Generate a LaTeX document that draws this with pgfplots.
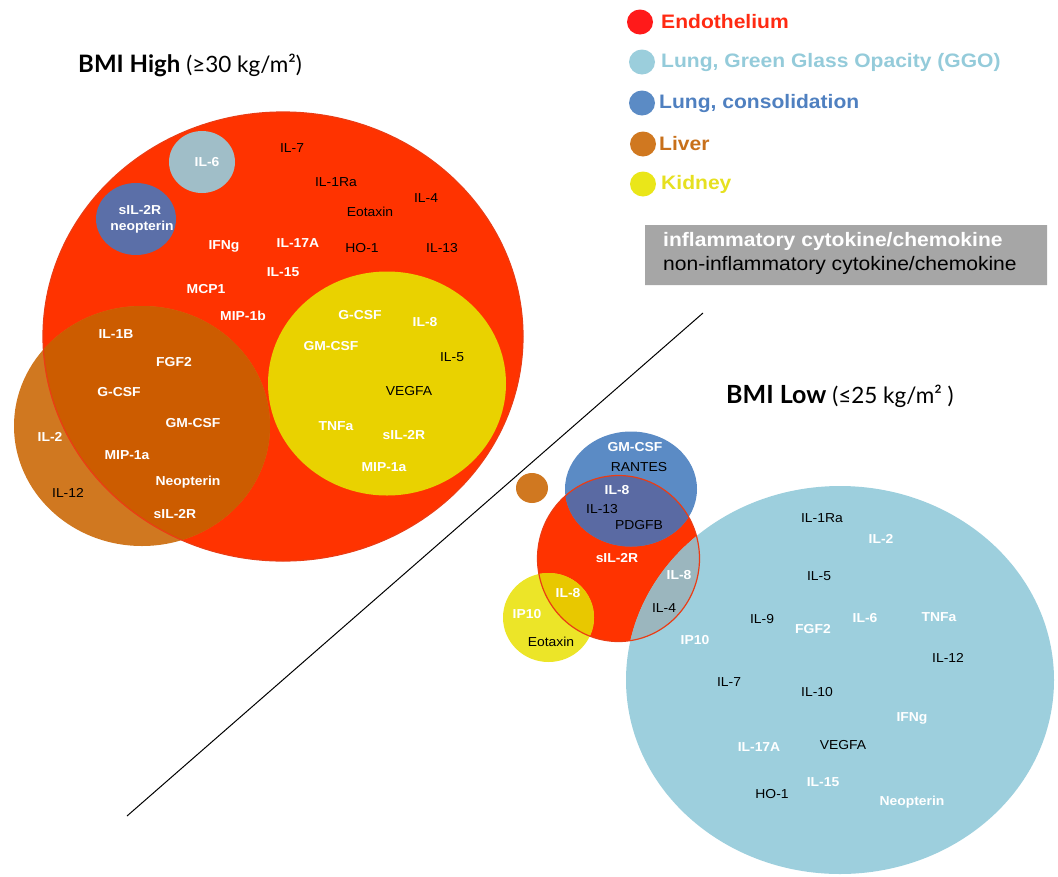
\documentclass[border=0pt]{standalone}
\usepackage{fontspec}
\setmainfont{Liberation Sans}
\newfontfamily\lato{Lato}
\usepackage{pgfplots}
\pgfplotsset{compat=1.18}

\definecolor{cRed}{RGB}{255,51,0}
\definecolor{cLiver}{RGB}{208,120,32}
\definecolor{cLiverRed}{RGB}{204,92,0}
\definecolor{cYelH}{RGB}{233,210,0}
\definecolor{cIL6}{RGB}{160,190,200}
\definecolor{cSlate}{RGB}{91,111,168}
\definecolor{cBlue}{RGB}{91,139,197}
\definecolor{cBlueRed}{RGB}{90,106,163}
\definecolor{cLBlue}{RGB}{157,207,221}
\definecolor{cLBlueRed}{RGB}{155,182,190}
\definecolor{cYelL}{RGB}{236,229,40}
\definecolor{cYelRed}{RGB}{232,200,0}
\definecolor{cRim}{RGB}{235,60,20}
\definecolor{cGray}{RGB}{166,166,166}
\definecolor{lgRed}{RGB}{255,26,26}
\definecolor{lgRedT}{RGB}{255,42,18}
\definecolor{lgLBlue}{RGB}{155,206,220}
\definecolor{lgLBlueT}{RGB}{148,203,218}
\definecolor{lgBlueT}{RGB}{79,128,192}
\definecolor{lgLiverT}{RGB}{200,112,26}
\definecolor{lgYel}{RGB}{234,230,25}
\definecolor{lgYelT}{RGB}{230,224,32}

% ellipse marks, radii in pt taken from the table
\pgfdeclareplotmark{ellF}{%
  \pgfpathellipse{\pgfpointorigin}{\pgfpoint{\rx pt}{0pt}}{\pgfpoint{0pt}{\ry pt}}%
  \pgfusepathqfill}
\pgfdeclareplotmark{ellD}{%
  \pgfpathellipse{\pgfpointorigin}{\pgfpoint{\rx pt}{0pt}}{\pgfpoint{0pt}{\ry pt}}%
  \pgfusepathqstroke}
% overlap: ellipse clipped by a second one at offset (dx,dy)
\pgfdeclareplotmark{lens}{%
  \pgfscope
  \pgfpathellipse{\pgfpoint{\dx pt}{\dy pt}}{\pgfpoint{\crx pt}{0pt}}{\pgfpoint{0pt}{\cry pt}}%
  \pgfusepathqclip
  \pgfpathellipse{\pgfpointorigin}{\pgfpoint{\rx pt}{0pt}}{\pgfpoint{0pt}{\ry pt}}%
  \pgfusepathqfill
  \endpgfscope}

\pgfplotsset{
  bub/.style={scatter, only marks, mark=ellF,
    scatter/use mapped color={draw=#1, fill=#1},
    visualization depends on=value \thisrow{rx}\as\rx,
    visualization depends on=value \thisrow{ry}\as\ry},
  rim/.style={scatter, only marks, mark=ellD,
    scatter/use mapped color={draw=#1, fill=none},
    mark options={line width=1.2pt},
    visualization depends on=value \thisrow{rx}\as\rx,
    visualization depends on=value \thisrow{ry}\as\ry},
  over/.style={scatter, only marks, mark=lens,
    scatter/use mapped color={draw=#1, fill=#1},
    visualization depends on=value \thisrow{rx}\as\rx,
    visualization depends on=value \thisrow{ry}\as\ry,
    visualization depends on=value \thisrow{dx}\as\dx,
    visualization depends on=value \thisrow{dy}\as\dy,
    visualization depends on=value \thisrow{crx}\as\crx,
    visualization depends on=value \thisrow{cry}\as\cry},
  lab/.style={draw=none, mark=none, nodes near coords,
    point meta=explicit symbolic, nodes near coords align={center},
    every node near coord/.append style={inner sep=0pt, xscale=1.07, transform shape, #1}},
  wlab/.style={lab={text=white, font=\bfseries\fontsize{13}{13}\selectfont}},
  blab/.style={lab={text=black, font=\fontsize{13}{13}\selectfont}},
}

\begin{document}
\begin{tikzpicture}
\begin{axis}[
  x=1pt, y=1pt, y dir=reverse,
  xmin=0, xmax=1058, ymin=0, ymax=876,
  hide axis, clip=false, scale only axis]
\addplot[draw=none, mark=none] coordinates {(0,0) (1058,876)};

% BMI high
\addplot[bub=cRed] table {
x y rx ry
283 336.5 240 224.5
};
\addplot[bub=cLiver] table {
x y rx ry
142 426 128 120
};
\addplot[over=cLiverRed] table {
x y rx ry dx dy crx cry
142 426 128 120 141 89.5 240 224.5
};
\addplot[rim=cRim] table {
x y rx ry
283 336.5 240 224.5
};
\addplot[bub=cYelH] table {
x y rx ry
387 383.5 119 112
};
\addplot[bub=cIL6] table {
x y rx ry
202 162 33 31
};
\addplot[bub=cSlate] table {
x y rx ry
136 219 40 36
};

% BMI low
\addplot[bub=cRed] table {
x y rx ry
618.5 558.5 81 83
};
\addplot[bub=cBlue] table {
x y rx ry
631 489 66 57.5
};
\addplot[bub=cLBlue] table {
x y rx ry
840 680 214 194
};
\addplot[bub=cYelL] table {
x y rx ry
548.5 617.5 45.5 44.5
};
\addplot[bub=cLiver] table {
x y rx ry
532 488 16 15
};
\addplot[over=cBlueRed] table {
x y rx ry dx dy crx cry
631 489 66 57.5 -12.5 -69.5 81 83
};
\addplot[over=cLBlueRed] table {
x y rx ry dx dy crx cry
840 680 214 194 -221.5 121.5 81 83
};
\addplot[over=cYelRed] table {
x y rx ry dx dy crx cry
548.5 617.5 45.5 44.5 70 59 81 83
};
\addplot[rim=cRim] table {
x y rx ry
618.5 558.5 81 83
};

% divider
\addplot[black, line width=1pt, mark=none] coordinates {(127,816) (703,313)};

% legend dots
\addplot[bub=lgRed] table {
x y rx ry
640 22 13 12.5
};
\addplot[bub=lgLBlue] table {
x y rx ry
642 62 13 12.5
};
\addplot[bub=cBlue] table {
x y rx ry
642 103 13 12.5
};
\addplot[bub=cLiver] table {
x y rx ry
643 144 13 12.5
};
\addplot[bub=lgYel] table {
x y rx ry
643 184 13 12.5
};

% key box
\addplot[fill=cGray, draw=none, mark=none] coordinates {(645,225) (1047,225) (1047,285) (645,285) (645,225)};

% labels
\addplot[wlab] table[meta=lab] {
x y lab
207 162 IL-6
140 210 sIL-2R
142 227 neopterin
224 246 IFNg
298 243 IL-17A
283 272 IL-15
206 289 MCP1
243 316 MIP-1b
116 334 IL-1B
174 362 FGF2
119 392 G-CSF
193 423 GM-CSF
50 437 IL-2
127 455 MIP-1a
188 482 Neopterin
175 514 sIL-2R
360 315 G-CSF
425 322 IL-8
331 346 GM-CSF
336 426 TNFa
404 435 sIL-2R
384 467 MIP-1a
635 447 GM-CSF
617 490 IL-8
617 558 sIL-2R
679 575 IL-8
568 593 IL-8
527 614 IP10
695 640 IP10
881 539 IL-2
813 629 FGF2
865 618 IL-6
939 617 TNFa
912 718 IFNg
759 747 IL-17A
823 782 IL-15
912 802 Neopterin
};
\addplot[blab] table[meta=lab] {
x y lab
292 148 IL-7
336 182 IL-1Ra
426 198 IL-4
370 212 Eotaxin
362 248 HO-1
442 248 IL-13
68 493 IL-12
452 357 IL-5
409 391 VEGFA
639 467 RANTES
602 509 IL-13
639 525 PDGFB
664 608 IL-4
551 642 Eotaxin
822 518 IL-1Ra
819 576 IL-5
762 619 IL-9
948 658 IL-12
729 682 IL-7
817 692 IL-10
843 745 VEGFA
772 794 HO-1
};

% titles, legend and key text
\node[anchor=base west, inner sep=0pt] at (axis cs:78,72)
  {{\lato\bfseries\fontsize{24}{24}\selectfont BMI High}\hspace{6pt}{\lato\fontsize{22.5}{22.5}\selectfont(≥30 kg/m²)}};
\node[anchor=base west, inner sep=0pt] at (axis cs:726,403)
  {{\lato\bfseries\fontsize{25}{25}\selectfont BMI Low}\hspace{6pt}{\lato\fontsize{22.5}{22.5}\selectfont(≤25 kg/m² )}};

\begin{scope}[every node/.style={anchor=west, inner sep=0pt, xscale=1.08, transform shape,
    font=\bfseries\fontsize{19.5}{19.5}\selectfont}]
\node[text=lgRedT] at (axis cs:661,22) {Endothelium};
\node[text=lgLBlueT] at (axis cs:661,62) {Lung, Green Glass Opacity (GGO)};
\node[text=lgBlueT] at (axis cs:659,103) {Lung, consolidation};
\node[text=lgLiverT] at (axis cs:659,144) {Liver};
\node[text=lgYelT] at (axis cs:661,184) {Kidney};
\node[text=white] at (axis cs:663,241) {inflammatory cytokine/chemokine};
\node[text=black, font=\fontsize{19.5}{19.5}\selectfont] at (axis cs:663,265) {non-inflammatory cytokine/chemokine};
\end{scope}
\end{axis}
\end{tikzpicture}
\end{document}
